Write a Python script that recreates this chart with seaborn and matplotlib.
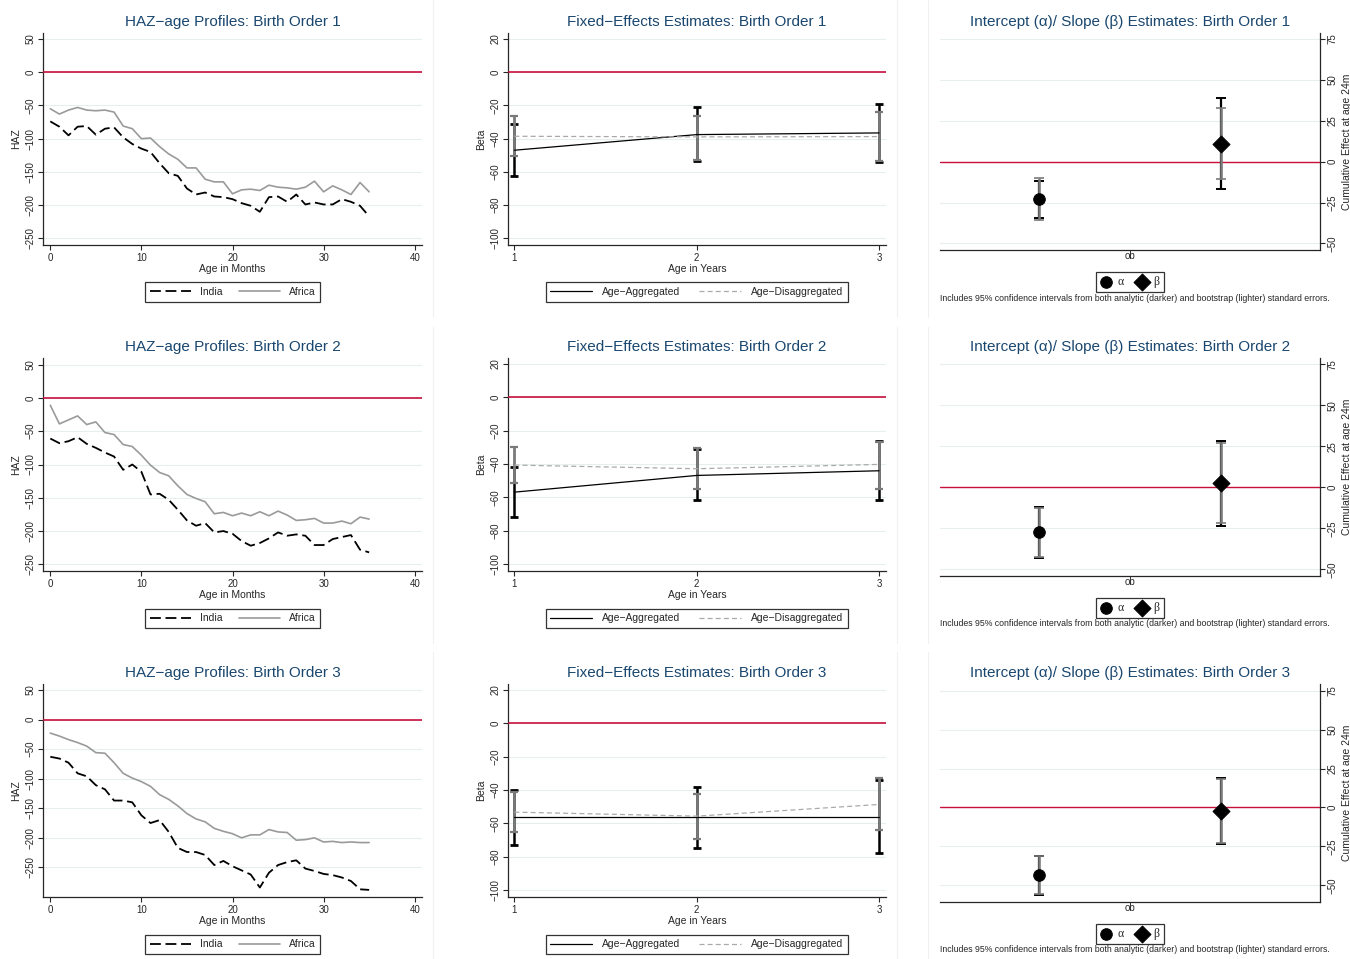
import matplotlib
matplotlib.use("Agg")
import matplotlib.pyplot as plt
import seaborn as sns
import numpy as np
from matplotlib.lines import Line2D

# ---- data ----
months = list(range(36))

india_bo1 = [-74, -82, -95, -82, -81, -94, -85, -83, -98, -108, -115, -120, -137, -152, -156, -175,
             -184, -181, -187, -188, -191, -197, -201, -210, -188, -187, -195, -184, -199, -196,
             -199, -199, -191, -195, -201, -217]
africa_bo1 = [-55, -63, -57, -53, -57, -58, -57, -60, -81, -85, -100, -99, -112, -123, -131, -144,
              -144, -161, -165, -165, -183, -177, -176, -178, -170, -173, -174, -176, -173, -164,
              -180, -171, -177, -184, -166, -180]
india_bo2 = [-61, -68, -65, -59, -69, -75, -82, -88, -108, -100, -111, -145, -144, -153, -168, -184,
             -192, -188, -202, -200, -204, -215, -222, -218, -211, -202, -207, -205, -207, -221,
             -221, -212, -209, -206, -228, -232]
africa_bo2 = [-11, -39, -33, -27, -40, -36, -52, -55, -70, -73, -86, -101, -112, -117, -132, -145,
              -151, -156, -174, -172, -177, -173, -177, -171, -177, -170, -176, -184, -183, -181,
              -188, -188, -185, -189, -179, -182]
india_bo3 = [-63, -66, -73, -91, -96, -111, -118, -137, -137, -140, -162, -175, -170, -190, -217, -224,
             -224, -229, -246, -239, -248, -255, -262, -284, -259, -246, -241, -238, -252, -256,
             -261, -263, -267, -273, -287, -288]
africa_bo3 = [-23, -28, -34, -39, -45, -56, -57, -73, -91, -99, -105, -113, -127, -135, -146, -159,
              -168, -173, -184, -189, -193, -200, -195, -195, -186, -190, -191, -204, -203, -200,
              -207, -206, -208, -207, -208, -208]

age_years = [1, 2, 3]
agg_beta = [[-47.0, -37.6, -36.6], [-56.8, -46.8, -44.0], [-56.2, -56.2, -56.2]]
agg_lo = [[-62.4, -53.6, -53.8], [-71.6, -61.6, -61.6], [-73.0, -74.6, -77.8]]
agg_hi = [[-31.2, -21.2, -19.4], [-42.0, -30.8, -26.4], [-39.8, -38.0, -34.2]]
dis_beta = [[-38.6, -39.0, -38.8], [-40.6, -42.8, -40.2], [-53.2, -55.6, -48.6]]
dis_lo = [[-50.4, -52.6, -53.6], [-51.2, -55.0, -54.8], [-65.2, -69.2, -63.8]]
dis_hi = [[-26.4, -26.2, -24.0], [-30.0, -30.4, -26.6], [-41.4, -42.2, -32.8]]

# intercept (alpha) and slope (beta) estimates per birth order
ab_est = [[-23.1, 10.8], [-27.4, 2.4], [-43.5, -2.1]]
ab_an_lo = [[-34.7, -16.9], [-43.3, -23.4], [-55.9, -23.3]]
ab_an_hi = [[-11.6, 39.2], [-11.8, 28.5], [-31.0, 18.8]]
ab_bs_lo = [[-35.7, -10.6], [-42.3, -21.5], [-55.6, -22.7]]
ab_bs_hi = [[-10.2, 33.0], [-12.8, 26.8], [-31.2, 18.2]]

india = [india_bo1, india_bo2, india_bo3]
africa = [africa_bo1, africa_bo2, africa_bo3]

# ---- style ----
sns.set_style("ticks")
plt.rcParams["font.family"] = ["Liberation Sans", "DejaVu Sans"]
plt.rcParams["axes.linewidth"] = 0.9

TITLE_C = "#1a476f"
GRID_C = "#e6eef0"
RED = "#c8103c"
GRAY = "#9a9a9a"
W, H = 1350, 959

fig = plt.figure(figsize=(13.5, 9.59), dpi=100)


def rect(x0, y0, x1, y1):
    return [x0 / W, 1 - y1 / H, (x1 - x0) / W, (y1 - y0) / H]


def style_ax(ax, yticks, side="left"):
    ax.set_yticks(yticks)
    for t in yticks:
        ax.axhline(t, color=GRID_C, lw=0.8, zorder=0)
    ax.tick_params(axis="both", labelsize=7, length=3.5, width=0.8, pad=2)
    for lab in ax.get_yticklabels():
        lab.set_rotation(90)
        lab.set_va("center")
    ax.spines["top"].set_visible(False)
    if side == "left":
        ax.spines["right"].set_visible(False)
    else:
        ax.spines["left"].set_visible(False)


row_top = [33, 358, 684]
row_bot = [245, 571, 897]
haz_ylim = [(-260, 59), (-260, 60), (-300, 60)]
ab_ylim = [(-54, 78.7), (-54, 78.8), (-60.7, 79.3)]

for r in range(3):
    top, bot = row_top[r], row_bot[r]

    # ---------- HAZ-age profiles ----------
    ax = fig.add_axes(rect(43, top, 422, bot))
    sns.lineplot(x=months, y=india[r], ax=ax, color="black", lw=1.3,
                 linestyle=(0, (6, 2.6)), label="India")
    sns.lineplot(x=months, y=africa[r], ax=ax, color=GRAY, lw=1.2, label="Africa")
    ax.axhline(0, color=RED, lw=1.2, zorder=3)
    ax.set_xlim(-0.8, 40.8)
    ax.set_ylim(*haz_ylim[r])
    ax.set_xticks([0, 10, 20, 30, 40])
    style_ax(ax, [50, 0, -50, -100, -150, -200, -250])
    ax.set_xlabel("Age in Months", fontsize=7.5, labelpad=1)
    ax.set_ylabel("HAZ", fontsize=7.5, labelpad=3)
    ax.set_title(f"HAZ\u2212age Profiles: Birth Order {r + 1}", color=TITLE_C, fontsize=11, pad=5)
    ax.legend(loc="upper center", bbox_to_anchor=(0.5, -0.152), ncol=2, fontsize=7.5,
              frameon=True, fancybox=False, edgecolor="black", handlelength=4,
              handletextpad=0.8, columnspacing=1.6, borderpad=0.45)
    ax.get_legend().get_frame().set_linewidth(0.9)

    # ---------- fixed-effects estimates ----------
    ax = fig.add_axes(rect(508, top, 886, bot))
    lo, hi = np.array(agg_lo[r]), np.array(agg_hi[r])
    ax.errorbar(age_years, (lo + hi) / 2, yerr=(hi - lo) / 2, fmt="none", ecolor="black",
                elinewidth=1.8, capsize=3, capthick=2.0, zorder=2)
    lo, hi = np.array(dis_lo[r]), np.array(dis_hi[r])
    ax.errorbar(age_years, (lo + hi) / 2, yerr=(hi - lo) / 2, fmt="none", ecolor="#7a7a7a",
                elinewidth=2.0, capsize=3, capthick=1.6, zorder=3)
    sns.lineplot(x=age_years, y=agg_beta[r], ax=ax, color="black", lw=0.9,
                 label="Age\u2212Aggregated", zorder=4)
    sns.lineplot(x=age_years, y=dis_beta[r], ax=ax, color="#aaaaaa", lw=0.9,
                 linestyle=(0, (4, 2.5)), label="Age\u2212Disaggregated", zorder=4)
    ax.axhline(0, color=RED, lw=1.2, zorder=3)
    ax.set_xlim(0.965, 3.038)
    ax.set_ylim(-104, 23.5)
    ax.set_xticks([1, 2, 3])
    style_ax(ax, [20, 0, -20, -40, -60, -80, -100])
    ax.set_xlabel("Age in Years", fontsize=7.5, labelpad=1)
    ax.set_ylabel("Beta", fontsize=7.5, labelpad=3)
    ax.set_title(f"Fixed\u2212Effects Estimates: Birth Order {r + 1}", color=TITLE_C,
                 fontsize=11, pad=5)
    ax.legend(loc="upper center", bbox_to_anchor=(0.5, -0.152), ncol=2, fontsize=7.5,
              frameon=True, fancybox=False, edgecolor="black", handlelength=4,
              handletextpad=1.0, columnspacing=1.8, borderpad=0.45)
    ax.get_legend().get_frame().set_linewidth(0.9)

    # ---------- intercept / slope estimates ----------
    ax = fig.add_axes(rect(940, top, 1320, bot + 5))
    pos = [1, 2]
    lo, hi = np.array(ab_an_lo[r]), np.array(ab_an_hi[r])
    ax.errorbar(pos, (lo + hi) / 2, yerr=(hi - lo) / 2, fmt="none", ecolor="black",
                elinewidth=1.6, capsize=3.5, capthick=1.4, zorder=2)
    lo, hi = np.array(ab_bs_lo[r]), np.array(ab_bs_hi[r])
    ax.errorbar(pos, (lo + hi) / 2, yerr=(hi - lo) / 2, fmt="none", ecolor="#7a7a7a",
                elinewidth=1.8, capsize=3.5, capthick=1.2, zorder=3)
    ax.axhline(0, color=RED, lw=1.0, zorder=1)
    sns.scatterplot(x=[pos[0]], y=[ab_est[r][0]], ax=ax, marker="o", s=70, color="black",
                    edgecolor="black", zorder=5, label="\u03b1")
    sns.scatterplot(x=[pos[1]], y=[ab_est[r][1]], ax=ax, marker="D", s=75, color="black",
                    edgecolor="black", zorder=5, label="\u03b2")
    ax.set_xlim(0.46, 2.54)
    ax.set_ylim(*ab_ylim[r])
    ax.yaxis.tick_right()
    ax.yaxis.set_label_position("right")
    style_ax(ax, [75, 50, 25, 0, -25, -50], side="right")
    ax.set_xticks([1.5])
    ax.set_xticklabels(["ob"])
    ax.tick_params(axis="x", length=0, pad=1)
    ax.set_xlabel("")
    ax.set_ylabel("Cumulative Effect at age 24m", fontsize=7.5, labelpad=3)
    ax.set_title(f"Intercept (\u03b1)/ Slope (\u03b2) Estimates: Birth Order {r + 1}",
                 color=TITLE_C, fontsize=11, pad=5)
    leg = ax.legend(loc="upper center", bbox_to_anchor=(0.5, -0.072), ncol=2,
                    prop={"family": "Liberation Serif", "size": 8.5}, frameon=True,
                    fancybox=False, edgecolor="black", handlelength=1, handletextpad=0.5,
                    columnspacing=1.0, borderpad=0.35)
    leg.get_frame().set_linewidth(0.9)
    fig.text(1135 / W, 1 - 298 / H - (row_top[r] - 33) / H,
             "Includes 95% confidence intervals from both analytic (darker) and bootstrap "
             "(lighter) standard errors.", fontsize=6.3, ha="center", va="center")

# faint panel borders of the combined graph
for r, (y0, y1) in enumerate([(0, 317), (327, 643), (652, 959)]):
    for x in (433, 897, 928):
        fig.add_artist(Line2D([x / W, x / W], [1 - y1 / H, 1 - y0 / H],
                              transform=fig.transFigure, color="#eef1f3", lw=0.8))

fig.savefig("out.png", dpi=100, facecolor="white")
